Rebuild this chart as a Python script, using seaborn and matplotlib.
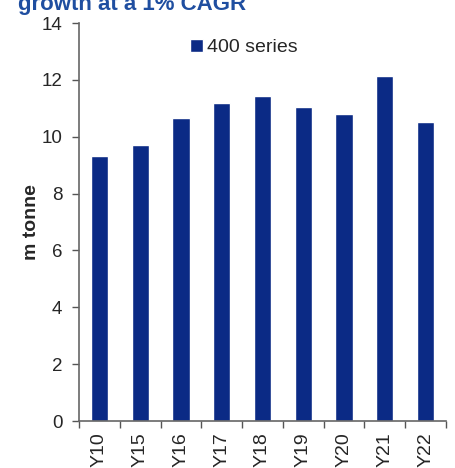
import numpy as np
import pandas as pd
import matplotlib
matplotlib.use('Agg')
import matplotlib.pyplot as plt
import seaborn as sns

# data
years = ['Y10', 'Y15', 'Y16', 'Y17', 'Y18', 'Y19', 'Y20', 'Y21', 'Y22']
output_400 = [9.32, 9.71, 10.66, 11.19, 11.43, 11.04, 10.80, 12.13, 10.52]
y_ticks = [0, 2, 4, 6, 8, 10, 12, 14]

df = pd.DataFrame({'year': years, 'value': output_400, 'series': '400 series'})

sns.set_style('white')
plt.rcParams['font.family'] = ['Liberation Sans', 'DejaVu Sans']

fig = plt.figure(figsize=(4.56, 4.68), dpi=100)
ax = fig.add_axes([79 / 456, 1 - 421 / 468, (446 - 79) / 456, (421 - 23) / 468])

sns.barplot(data=df, x='year', y='value', hue='series', palette=['#0b2a85'],
            saturation=1, width=0.42, ax=ax, legend=True)

ax.set_ylim(0, 14)
ax.set_xlim(-0.5, len(years) - 0.5)
ax.set_yticks(y_ticks)
ax.tick_params(axis='y', labelsize=13.5, length=5, width=1, color='#555555', direction='out', left=True, pad=7)
ax.set_xticks(range(len(years)))
ax.set_xticklabels(years, rotation=90)
ax.tick_params(axis='x', labelsize=14, length=0, pad=8)
ax.set_xticks(np.arange(-0.5, len(years)), minor=True)
ax.tick_params(axis='x', which='minor', length=5, width=1, color='#555555', direction='out', bottom=True)
ax.set_xlabel('')
ax.set_ylabel('m tonne', fontsize=14, fontweight='bold')
ax.yaxis.set_label_coords(-0.105, 0.5)

for side in ['top', 'right']:
    ax.spines[side].set_visible(False)
for side in ['left', 'bottom']:
    ax.spines[side].set_color('#666666')
    ax.spines[side].set_linewidth(1.2)

leg = ax.legend(loc='upper left', bbox_to_anchor=(0.28, 0.98), frameon=False,
                fontsize=14, handlelength=0.7, handleheight=0.7, handletextpad=0.2,
                borderaxespad=0)

fig.text(18 / 456, 1 - 10 / 468, 'growth at a 1% CAGR', color='#1f4ea0',
         fontsize=16, fontweight='bold', va='baseline', ha='left')

fig.savefig('out.png', dpi=100)
